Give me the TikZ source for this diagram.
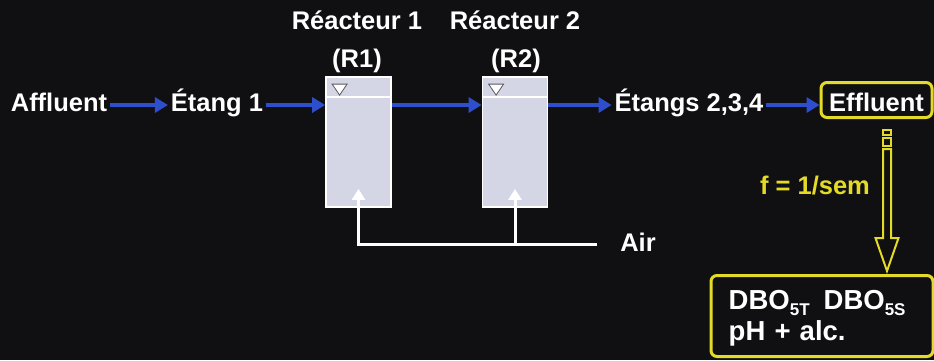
\documentclass[tikz,border=0pt]{standalone}
\usepackage{fontspec}
\setmainfont{Liberation Sans}
\usetikzlibrary{arrows.meta,calc}
\definecolor{flowblue}{RGB}{45,78,205}
\definecolor{yel}{RGB}{228,218,40}
\definecolor{tankfill}{RGB}{212,214,230}
\definecolor{bg}{RGB}{16,16,18}
\begin{document}
\begin{tikzpicture}[x=1pt,y=-1pt,
  lbl/.style={text=white,font=\bfseries\fontsize{25.5}{28}\selectfont,inner sep=0pt,outer sep=3pt,text height=17pt,text depth=5pt},
  flow/.style={flowblue,line width=4.5pt,-{Triangle[length=13pt,width=15pt]}},
  tank/.style={draw=white,line width=1.8pt,fill=tankfill,minimum width=65pt,minimum height=130pt,inner sep=0pt},
  airline/.style={white,line width=3pt},
  airarrow/.style={airline,-{Triangle[length=11pt,width=13pt]}},
  ybox/.style={draw=yel,line width=3pt,rounded corners=6pt,fill=bg},
  hollow/.style={draw=yel,line width=2pt,fill=bg,line join=miter}
]
\useasboundingbox (0,0) rectangle (934,360);
\fill[bg] (0,0) rectangle (934,360);

% titles
\node[lbl] (t1) at (357,23) {Réacteur 1};
\node[lbl] (t2) at (515,23) {Réacteur 2};
\node[lbl] (rl1) at (357,61) {(R1)};
\node[lbl] (rl2) at (516,61) {(R2)};

% tanks
\node[tank] (r1) at (358.5,142) {};
\node[tank] (r2) at (515,142) {};
\foreach \r in {r1,r2}{
  \draw[white,line width=1.8pt] ($(\r.north west)+(0,21)$) -- ($(\r.north east)+(0,21)$);
  \draw[gray!70!black,line width=0.8pt,fill=white] ($(\r.north west)+(7,8)$) -- ($(\r.north west)+(22,8)$) -- ($(\r.north west)+(14.5,19)$) -- cycle;
}

% flow line
\node[lbl] (aff) at (59,105) {Affluent};
\node[lbl] (e1) at (217,105) {Étang 1};
\node[lbl] (e234) at (689,105) {Étangs 2,3,4};
\node[ybox,text=white,font=\bfseries\fontsize{25.5}{28}\selectfont,minimum width=111pt,minimum height=35pt,inner sep=0pt,text height=22pt,text depth=0pt] (eff) at (876.5,100) {Effluent};

\draw[flow] (aff.east) -- (e1.west);
\draw[flow] (e1.east) -- (r1.west |- e1.east);
\draw[flow] (r1.east |- e1.east) -- (r2.west |- e1.east);
\draw[flow] (r2.east |- e1.east) -- (e234.west);
\draw[flow] (e234.east) -- (eff.west |- e234.east);

% air
\node[lbl] (air) at (638,245) {Air};
\coordinate (airend) at (597,244);
\draw[airarrow] (airend) -- (r1.south |- airend) -- ($(r1.south)+(0,-19)$);
\draw[airarrow] (r2.south |- airend) -- ($(r2.south)+(0,-19)$);

% sampling
\node[text=yel,font=\bfseries\fontsize{25.5}{28}\selectfont,inner sep=0pt] (freq) at (815,186) {f = 1/sem};
\coordinate (ax) at ($(eff.south)+(10.5,0)$);
\draw[hollow] ($(ax)+(-4,11)$) rectangle ($(ax)+(4,16)$);
\draw[hollow] ($(ax)+(-4,19)$) rectangle ($(ax)+(4,27)$);
\draw[hollow] ($(ax)+(-4,30)$) -- ($(ax)+(4,30)$) -- ($(ax)+(4,119)$) -- ($(ax)+(11.5,119)$)
  -- ($(ax)+(0,152)$) -- ($(ax)+(-11.5,119)$) -- ($(ax)+(-4,119)$) -- cycle;

\node[ybox,minimum width=222pt,minimum height=81pt,inner sep=0pt] (res) at (822,316) {};
\node[text width=194pt,align=left,inner sep=0pt,anchor=north west,
  text=white,font=\bfseries\fontsize{27.5}{31}\selectfont] (restxt) at ($(res.north west)+(19,16)$)
  {DBO\raisebox{-6pt}{\fontsize{17}{17}\selectfont 5T}\hspace{14pt}DBO\raisebox{-6pt}{\fontsize{17}{17}\selectfont 5S}\\pH + alc.};
\end{tikzpicture}
\end{document}
